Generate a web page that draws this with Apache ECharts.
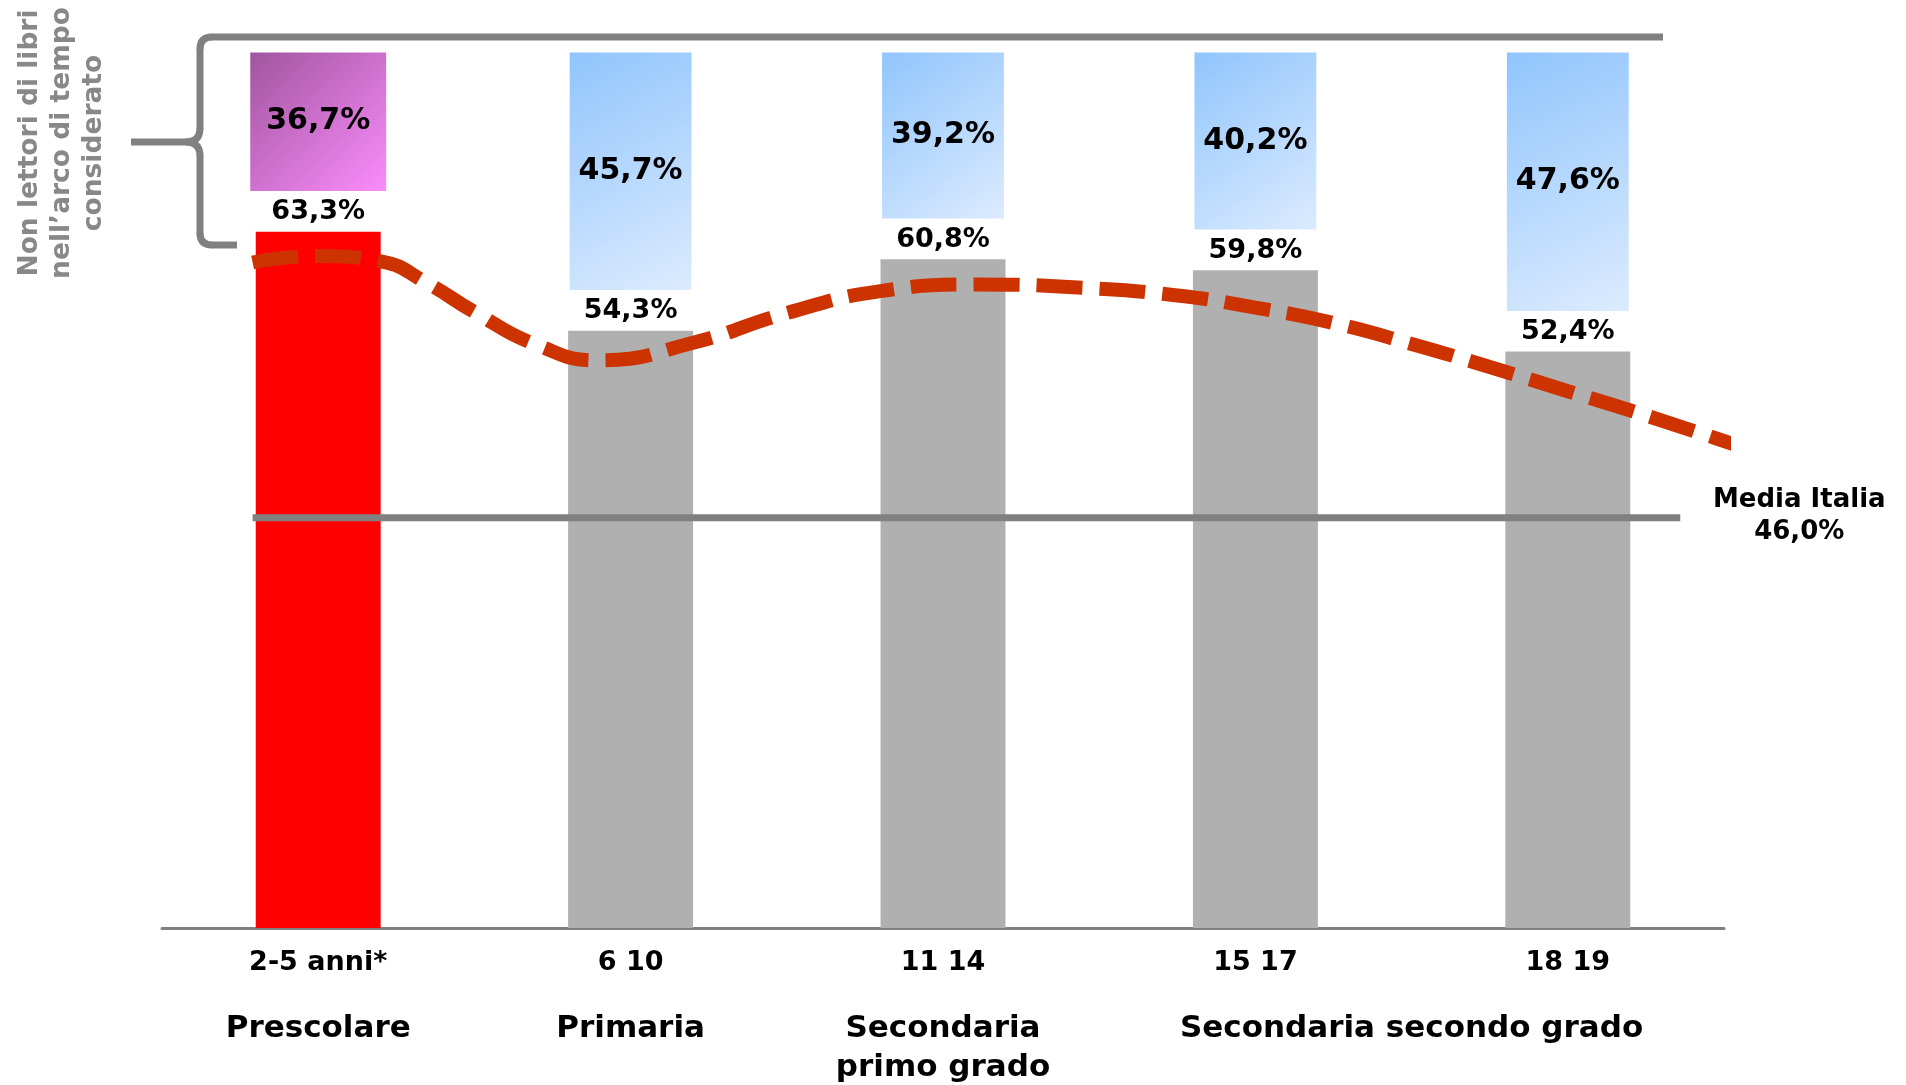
<!DOCTYPE html>
<html><head><meta charset="utf-8">
<script src="https://cdn.jsdelivr.net/npm/echarts@6/dist/echarts.min.js"></script>
<style>html,body{margin:0;padding:0;background:#fff}#c{width:1906px;height:1085px}</style>
</head><body><div id="c"></div>
<script>
// ---- data ----
const ageGroups = ['2-5 anni*', '6 10', '11 14', '15 17', '18 19'];
const readers = [63.3, 54.3, 60.8, 59.8, 52.4];
const nonReaders = [36.7, 45.7, 39.2, 40.2, 47.6];
const levelNames = ['Prescolare', 'Primaria', 'Secondaria\nprimo grado', 'Secondaria secondo grado'];
const levelAt = [0, 1, 2, 3.5];
const mediaItalia = 46.0;
const mediaLabel = 'Media Italia';
const sideTitle = 'Non lettori di libri\nnell\u2019arco di tempo\nconsiderato';
// dashed trend curve (x in category units, y on the bar scale)
const trendX = [-0.21, 0.0, 0.2, 0.35, 0.5, 0.7, 0.9, 1.2, 1.5, 1.8, 2.1, 2.45, 2.75, 3.0, 3.25, 3.5, 3.75, 4.0, 4.25, 4.58];
const trendY = [60.5, 61.1, 60.6, 58.6, 56.0, 53.0, 51.6, 53.2, 55.9, 57.9, 58.5, 58.2, 57.5, 56.4, 55.0, 53.1, 51.0, 48.8, 46.6, 43.5];
const mediaSpan = [-0.21, 4.36];

// ---- layout / style ----
const BOX_TOP = 79.6, BOX_GAP = 3.7;
const fmt = v => v.toFixed(1).replace('.', ',') + '%';
const FONT = '"DejaVu Sans", Verdana, sans-serif';

const chart = echarts.init(document.getElementById('c'), null, {renderer: 'canvas'});

const pinkGrad = new echarts.graphic.LinearGradient(0, 0, 1, 1, [
  {offset: 0, color: '#a0559f'}, {offset: 1, color: '#fb8cfb'}]);
const blueGrad = new echarts.graphic.LinearGradient(0, 0, 1, 1, [
  {offset: 0, color: '#90c5fc'}, {offset: 1, color: '#dcebfe'}]);

const boxData = readers.map((r, i) => [i, r + BOX_GAP, BOX_TOP, nonReaders[i]]);

const option = {
  animation: false,
  backgroundColor: '#fff',
  grid: {left: 162, right: 182, top: 48, bottom: 157, containLabel: false},
  xAxis: [{
    type: 'category', data: ageGroups, boundaryGap: true,
    axisLine: {lineStyle: {color: '#808080', width: 3}},
    axisTick: {show: false},
    axisLabel: {margin: 21, color: '#000', fontFamily: FONT, fontWeight: 'bold', fontSize: 27}
  }, {
    type: 'value', min: -0.5, max: 4.5, show: false
  }],
  yAxis: [{
    type: 'value', min: 0, max: 80, show: false, splitLine: {show: false}
  }, {
    // the reference draws the national average not to the bar scale
    type: 'value', min: 0, max: 98.7, show: false, splitLine: {show: false}
  }],
  series: [{
    type: 'bar', data: readers.map((v, i) => ({value: v, itemStyle: {color: i === 0 ? '#ff0000' : '#b0b0b0'}})),
    barWidth: '40%',
    label: {show: true, position: 'top', distance: 6, formatter: p => fmt(p.value),
      color: '#000', fontFamily: FONT, fontWeight: 'bold', fontSize: 27}
  }, {
    type: 'custom', data: boxData,
    encode: {x: 0, y: [1, 2]},
    renderItem: (params, api) => {
      const i = api.value(0);
      const lo = api.coord([i, api.value(1)]);
      const hi = api.coord([i, api.value(2)]);
      const band = api.size([1, 0])[0];
      const w = band * (i === 0 ? 0.435 : 0.39);
      return {
        type: 'rect',
        shape: {x: lo[0] - w / 2, y: hi[1], width: w, height: lo[1] - hi[1]},
        style: {fill: i === 0 ? pinkGrad : blueGrad},
        textContent: {style: {text: fmt(api.value(3)), font: 'bold 30px ' + FONT, fill: '#000'}},
        textConfig: {position: 'inside'}
      };
    }
  }, {
    type: 'line', xAxisIndex: 1, yAxisIndex: 1,
    data: mediaSpan.map(x => [x, mediaItalia]),
    symbol: 'none', clip: false,
    lineStyle: {color: '#808080', width: 7}
  }, {
    type: 'line', xAxisIndex: 1, yAxisIndex: 0,
    data: trendX.map((x, i) => [x, trendY[i]]),
    smooth: 0.5, symbol: 'none', clip: false,
    lineStyle: {color: '#cc3300', width: 14, type: [46, 17], cap: 'butt'}
  }]
};
chart.setOption(option);

// annotations positioned through the chart's own scales
const base = chart.convertToPixel({xAxisIndex: 0, yAxisIndex: 0}, [0, 0]);
const graphics = [];
levelNames.forEach((name, k) => {
  const px = chart.convertToPixel({xAxisIndex: 1, yAxisIndex: 0}, [levelAt[k], 0]);
  graphics.push({
    type: 'text', x: px[0], y: base[1] + 81,
    style: {text: name, font: 'bold 31px ' + FONT, fill: '#000', textAlign: 'center', textVerticalAlign: 'top', lineHeight: 39}
  });
});
const mEnd = chart.convertToPixel({xAxisIndex: 1, yAxisIndex: 1}, [mediaSpan[1], mediaItalia]);
graphics.push({
  type: 'text', x: mEnd[0] + 119, y: mEnd[1] - 2,
  style: {text: mediaLabel + '\n' + fmt(mediaItalia), font: 'bold 26px ' + FONT, fill: '#000',
    textAlign: 'center', textVerticalAlign: 'middle', lineHeight: 32}
});
// bracket + top rule (decoration)
const br = {stroke: '#808080', lineWidth: 7, fill: null};
const segs = [
  ['line', {x1: 1663, y1: 37, x2: 211, y2: 37}],
  ['bezierCurve', {x1: 212, y1: 37, cpx1: 200, cpy1: 37, x2: 200, y2: 49}],
  ['line', {x1: 200, y1: 48, x2: 200, y2: 129}],
  ['bezierCurve', {x1: 200, y1: 128, cpx1: 200, cpy1: 142, x2: 186, y2: 142}],
  ['line', {x1: 187, y1: 142, x2: 131, y2: 142}],
  ['bezierCurve', {x1: 186, y1: 142, cpx1: 200, cpy1: 142, x2: 200, y2: 156}],
  ['line', {x1: 200, y1: 155, x2: 200, y2: 234}],
  ['bezierCurve', {x1: 200, y1: 233, cpx1: 200, cpy1: 245, x2: 212, y2: 245}],
  ['line', {x1: 211, y1: 245, x2: 237, y2: 245}]
];
segs.forEach(s => graphics.push({type: s[0], shape: s[1], style: Object.assign({}, br)}));
graphics.push({
  type: 'text', x: 62, y: 143, rotation: Math.PI / 2,
  style: {text: sideTitle, font: 'bold 26.5px ' + FONT, fill: '#888888', textAlign: 'center', textVerticalAlign: 'middle', lineHeight: 32}
});
chart.setOption({graphic: graphics});
</script>
</body></html>
